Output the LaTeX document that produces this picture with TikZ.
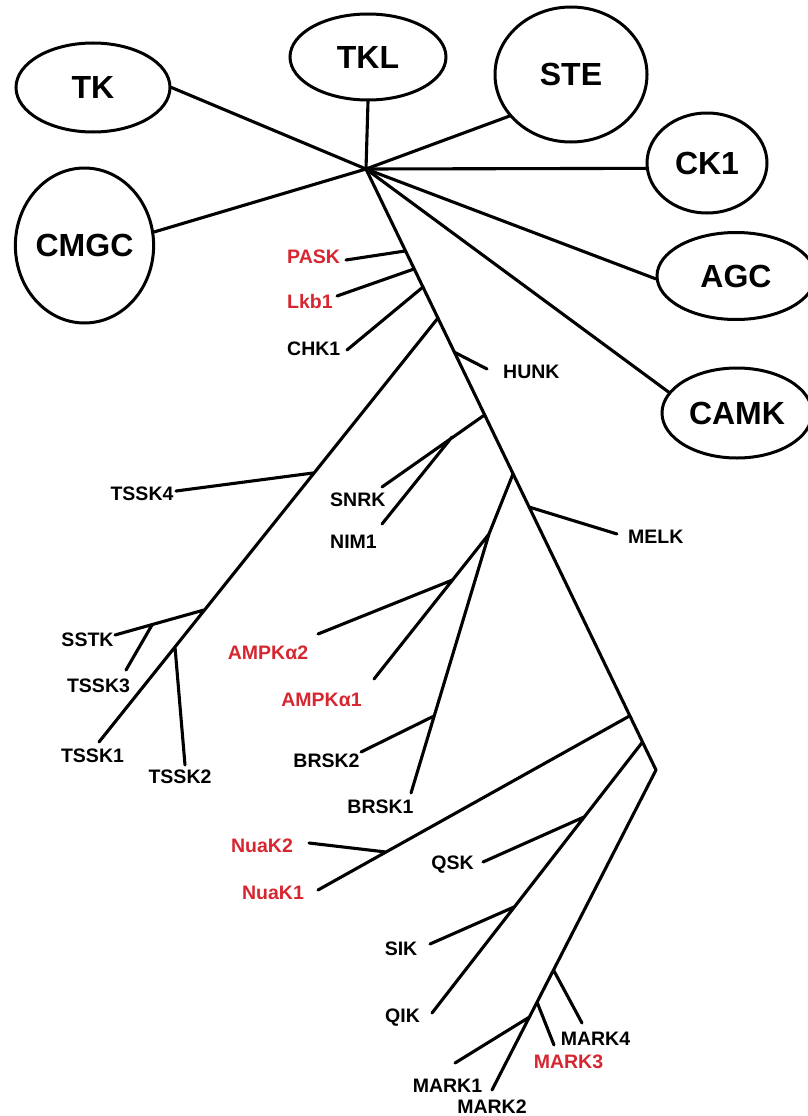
\documentclass[tikz,border=0pt]{standalone}
\usepackage{fontspec}
\setmainfont{Liberation Sans}
\usetikzlibrary{shapes.geometric}
\definecolor{kinred}{RGB}{214,38,48}
\begin{document}
\begin{tikzpicture}[x=1pt,y=-1pt,
		fam/.style={ellipse,draw,line width=3pt,inner sep=0pt,font=\fontsize{32}{32}\selectfont\bfseries},
		leaf/.style={inner sep=0pt,font=\fontsize{19.5}{19.5}\selectfont\bfseries},
		hit/.style={leaf,text=kinred},
		br/.style={line width=3.1pt,line cap=round}]
		\useasboundingbox (0,0) rectangle (808,1116);
		\clip (0,0) rectangle (808,1116);
		% kinase groups
		\node[fam,minimum width=154,minimum height=89] (TK) at (93,87.5) {TK};
		\node[fam,minimum width=156,minimum height=86] (TKL) at (368,57) {TKL};
		\node[fam,minimum width=152,minimum height=135] (STE) at (571,74.5) {STE};
		\node[fam,minimum width=120,minimum height=100] (CK1) at (707,163) {CK1};
		\node[fam,minimum width=138,minimum height=155] (CMGC) at (84.5,245.5) {CMGC};
		\node[fam,minimum width=158,minimum height=87] (AGC) at (736,276) {AGC};
		\node[fam,minimum width=150,minimum height=90] (CAMK) at (737,413) {CAMK};
		\coordinate (hub) at (366,169);
		\coordinate (bend) at (656,770);
		\foreach \n/\a in {TK/east,TKL/south,STE/214,CK1/185,CMGC/11,AGC/182,CAMK/163}
			\draw[br] (hub) -- (\n.\a);
		% trunk
		\draw[br] (hub) -- (bend);
		\coordinate (t1) at (405,251);
		\coordinate (t2) at (414,269);
		\coordinate (t3) at (423,287);
		\coordinate (t4) at (438,318);
		\coordinate (t5) at (454,352);
		\coordinate (t6) at (484.5,415);
		\coordinate (t7) at (513,474);
		\coordinate (t8) at (529,507);
		\coordinate (t9) at (629.5,716);
		\coordinate (t10) at (642.5,742);
		% leaves
		\node[hit,anchor=west] (PASK) at (287,257) {PASK};
		\node[hit,anchor=west] (Lkb1) at (287,302) {Lkb1};
		\node[leaf,anchor=west] (CHK1) at (287,349) {CHK1};
		\node[leaf,anchor=west] (HUNK) at (503,372) {HUNK};
		\node[leaf] (TSSK4) at (142,494) {TSSK4};
		\node[leaf,anchor=west] (SNRK) at (330,500) {SNRK};
		\node[leaf,anchor=west] (NIM1) at (330,542) {NIM1};
		\node[leaf,anchor=west] (MELK) at (628,537) {MELK};
		\node[leaf] (SSTK) at (87.5,640) {SSTK};
		\node[leaf] (TSSK3) at (98.5,686) {TSSK3};
		\node[leaf] (TSSK1) at (92.5,756) {TSSK1};
		\node[leaf] (TSSK2) at (180,777) {TSSK2};
		\node[hit] (AMPKa2) at (268,653) {AMPKα2};
		\node[hit] (AMPKa1) at (321.5,700) {AMPKα1};
		\node[leaf] (BRSK2) at (326.5,761) {BRSK2};
		\node[leaf] (BRSK1) at (380.5,807) {BRSK1};
		\node[hit] (NuaK2) at (262,846) {NuaK2};
		\node[hit] (NuaK1) at (273,893) {NuaK1};
		\node[leaf] (QSK) at (452.5,865) {QSK};
		\node[leaf] (SIK) at (401,949) {SIK};
		\node[leaf] (QIK) at (402.5,1018) {QIK};
		\node[leaf] (MARK4) at (595.5,1039) {MARK4};
		\node[hit] (MARK3) at (568.5,1062) {MARK3};
		\node[leaf] (MARK1) at (447.5,1086) {MARK1};
		\node[leaf] (MARK2) at (492,1107) {MARK2};
		% branch ends
		\coordinate (PASK-e) at (346,260);
		\coordinate (Lkb1-e) at (337,296);
		\coordinate (CHK1-e) at (347,350);
		\coordinate (HUNK-e) at (487,369);
		\coordinate (TSSK4-e) at (176,491);
		\coordinate (TSSK4-j) at (313,473);
		\coordinate (SSTK-j) at (204,610);
		\coordinate (SSTK-e) at (115,635);
		\coordinate (TSSK3-j) at (152,625);
		\coordinate (TSSK3-e) at (126,670);
		\coordinate (TSSK2-j) at (175,647);
		\coordinate (TSSK2-e) at (185,765);
		\coordinate (TSSK1-e) at (99,742);
		\coordinate (SNRK-e) at (382,487);
		\coordinate (NIM1-j) at (452,437);
		\coordinate (NIM1-e) at (382,524);
		\coordinate (AMPK-f) at (489,534);
		\coordinate (AMPKa2-j) at (452.5,580);
		\coordinate (AMPKa2-e) at (318,634);
		\coordinate (AMPKa1-e) at (374,679);
		\coordinate (BRSK2-j) at (434,716);
		\coordinate (BRSK2-e) at (361,752);
		\coordinate (BRSK1-e) at (411,793);
		\coordinate (MELK-e) at (617,534);
		\coordinate (NuaK2-j) at (386,852);
		\coordinate (NuaK2-e) at (309,843);
		\coordinate (NuaK1-e) at (318,890);
		\coordinate (QSK-j) at (584,817);
		\coordinate (QSK-e) at (483,862);
		\coordinate (SIK-j) at (514,907);
		\coordinate (SIK-e) at (430,944);
		\coordinate (QIK-e) at (432,1013);
		\coordinate (MARK4-j) at (553.5,970);
		\coordinate (MARK4-e) at (582,1023);
		\coordinate (MARK3-j) at (537,1002);
		\coordinate (MARK3-e) at (554,1045);
		\coordinate (MARK1-j) at (529.5,1017);
		\coordinate (MARK1-e) at (455,1063);
		\coordinate (MARK2-e) at (492,1090);
		\draw[br] (t1) -- (PASK-e) (t2) -- (Lkb1-e) (t3) -- (CHK1-e) (t5) -- (HUNK-e);
		\draw[br] (t4) -- (TSSK1-e) (TSSK4-j) -- (TSSK4-e) (SSTK-j) -- (SSTK-e)
			(TSSK3-j) -- (TSSK3-e) (TSSK2-j) -- (TSSK2-e);
		\draw[br] (t6) -- (SNRK-e) (NIM1-j) -- (NIM1-e);
		\draw[br] (t7) -- (AMPK-f) -- (AMPKa1-e) (AMPKa2-j) -- (AMPKa2-e)
			(AMPK-f) -- (BRSK1-e) (BRSK2-j) -- (BRSK2-e);
		\draw[br] (t8) -- (MELK-e);
		\draw[br] (t9) -- (NuaK1-e) (NuaK2-j) -- (NuaK2-e);
		\draw[br] (t10) -- (QIK-e) (QSK-j) -- (QSK-e) (SIK-j) -- (SIK-e);
		\draw[br] (bend) -- (MARK2-e) (MARK4-j) -- (MARK4-e) (MARK3-j) -- (MARK3-e)
			(MARK1-j) -- (MARK1-e);
	\end{tikzpicture}
\end{document}
